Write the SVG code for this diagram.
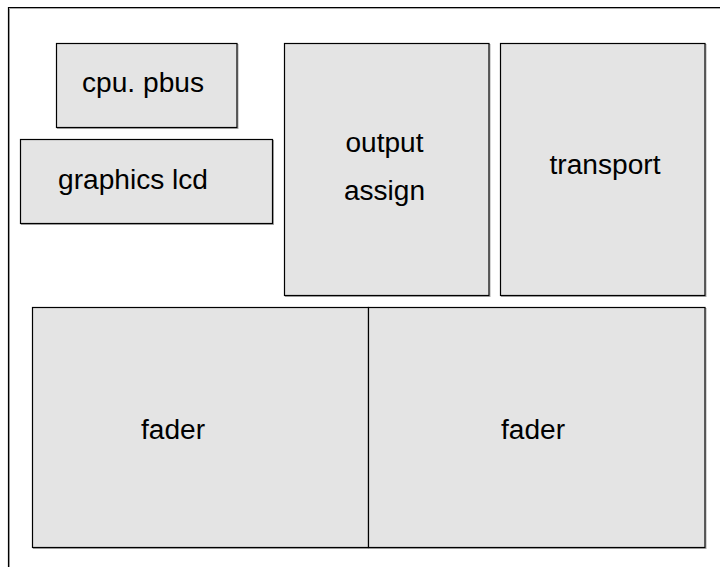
<svg xmlns="http://www.w3.org/2000/svg" width="720" height="567" viewBox="0 0 720 567">
<style>
.bg{fill:#ffffff}
.frame{fill:none;stroke:#000;stroke-width:1.2}
.sh{fill:none;stroke:#aaaaaa;stroke-width:1}
.box{fill:#e4e4e4;stroke:#000;stroke-width:1.2}
.lbl{font-family:"Liberation Sans",Arial,sans-serif;font-size:27px;fill:#000;text-anchor:middle}
</style>
<rect class="bg" x="0" y="0" width="720" height="567"/>
<g id="frame">
<path class="sh" d="M9.5,567 V8.5 H720"/>
<path class="frame" d="M8.5,567 V7.5 H720"/>
</g>
<g id="cpu-pbus">
<rect class="sh" x="57.5" y="44.5" width="180.5" height="84"/>
<rect class="box" x="56.5" y="43.5" width="180.5" height="84"/>
<text class="lbl" x="143" y="92" textLength="122" lengthAdjust="spacingAndGlyphs">cpu. pbus</text>
</g>
<g id="graphics-lcd">
<rect class="sh" x="21.5" y="140.5" width="252" height="84"/>
<rect class="box" x="20.5" y="139.5" width="252" height="84"/>
<text class="lbl" x="133" y="189" textLength="150" lengthAdjust="spacingAndGlyphs">graphics lcd</text>
</g>
<g id="output-assign">
<rect class="sh" x="285.5" y="44.5" width="204.5" height="252"/>
<rect class="box" x="284.5" y="43.5" width="204.5" height="252"/>
<text class="lbl" x="384.5" y="152" textLength="78" lengthAdjust="spacingAndGlyphs">output</text>
<text class="lbl" x="384.5" y="200" textLength="81" lengthAdjust="spacingAndGlyphs">assign</text>
</g>
<g id="transport">
<rect class="sh" x="501.5" y="44.5" width="204.5" height="252"/>
<rect class="box" x="500.5" y="43.5" width="204.5" height="252"/>
<text class="lbl" x="605" y="174" textLength="111" lengthAdjust="spacingAndGlyphs">transport</text>
</g>
<g id="fader-1">
<rect class="sh" x="33.5" y="308.5" width="336" height="240"/>
<rect class="box" x="32.5" y="307.5" width="336" height="240"/>
<text class="lbl" x="173" y="439" textLength="64" lengthAdjust="spacingAndGlyphs">fader</text>
</g>
<g id="fader-2">
<rect class="sh" x="369.5" y="308.5" width="336.5" height="240"/>
<rect class="box" x="368.5" y="307.5" width="336.5" height="240"/>
<text class="lbl" x="533" y="439" textLength="64" lengthAdjust="spacingAndGlyphs">fader</text>
</g>
<g id="connectors"/>
</svg>
